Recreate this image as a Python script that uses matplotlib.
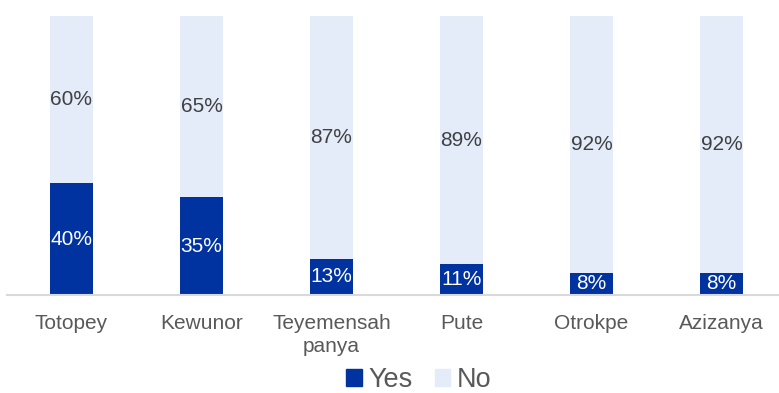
import numpy as np
import matplotlib
matplotlib.use('Agg')
import matplotlib.pyplot as plt
from matplotlib.patches import Patch

plt.rcParams['font.family'] = ['Liberation Sans', 'DejaVu Sans']

communities = ['Totopey', 'Kewunor', 'Teyemensah\npanya', 'Pute', 'Otrokpe', 'Azizanya']
yes_pct = [40, 35, 13, 11, 8, 8]
no_pct = [60, 65, 87, 89, 92, 92]

dark_blue = '#0033A0'
light_blue = '#E4ECFA'

fig = plt.figure(figsize=(7.79, 3.93), dpi=100)
# axes run slightly past the right edge so the bar spacing stays even
ax = fig.add_axes([6.5 / 779, 98 / 393, 780 / 779, 279 / 393])

x = np.arange(len(communities))
width = 0.33
yes = np.array(yes_pct)
no = np.array(no_pct)
ax.bar(x, yes, width, color=dark_blue, label='Yes')
ax.bar(x, no, width, bottom=yes, color=light_blue, label='No')

for i in range(len(x)):
    ax.text(x[i], yes[i] / 2, f'{yes[i]}%', ha='center', va='center',
            color='white', fontsize=15)
    ax.text(x[i], yes[i] + no[i] / 2, f'{no[i]}%', ha='center', va='center',
            color='#404040', fontsize=15)

ax.set_xlim(-0.5, len(x) - 0.5)
ax.set_ylim(0, 100)
ax.set_yticks([])
ax.set_xticks(x)
ax.set_xticklabels(communities, fontsize=15, color='#595959', linespacing=1.25)
ax.tick_params(axis='x', length=0, pad=14)
for side in ['top', 'right', 'left']:
    ax.spines[side].set_visible(False)
ax.spines['bottom'].set_color('#D9D9D9')
ax.spines['bottom'].set_linewidth(1.5)

handles = [Patch(color=dark_blue, label='Yes'), Patch(color=light_blue, label='No')]
fig.legend(handles=handles, loc='center', bbox_to_anchor=(0.538, 1 - 380 / 393),
           ncol=2, frameon=False, fontsize=19.5, handlelength=0.58, handleheight=0.58,
           handletextpad=0.25, columnspacing=0.8, labelcolor='#595959',
           borderpad=0.0, borderaxespad=0.0)

fig.savefig('out.png', dpi=100)
